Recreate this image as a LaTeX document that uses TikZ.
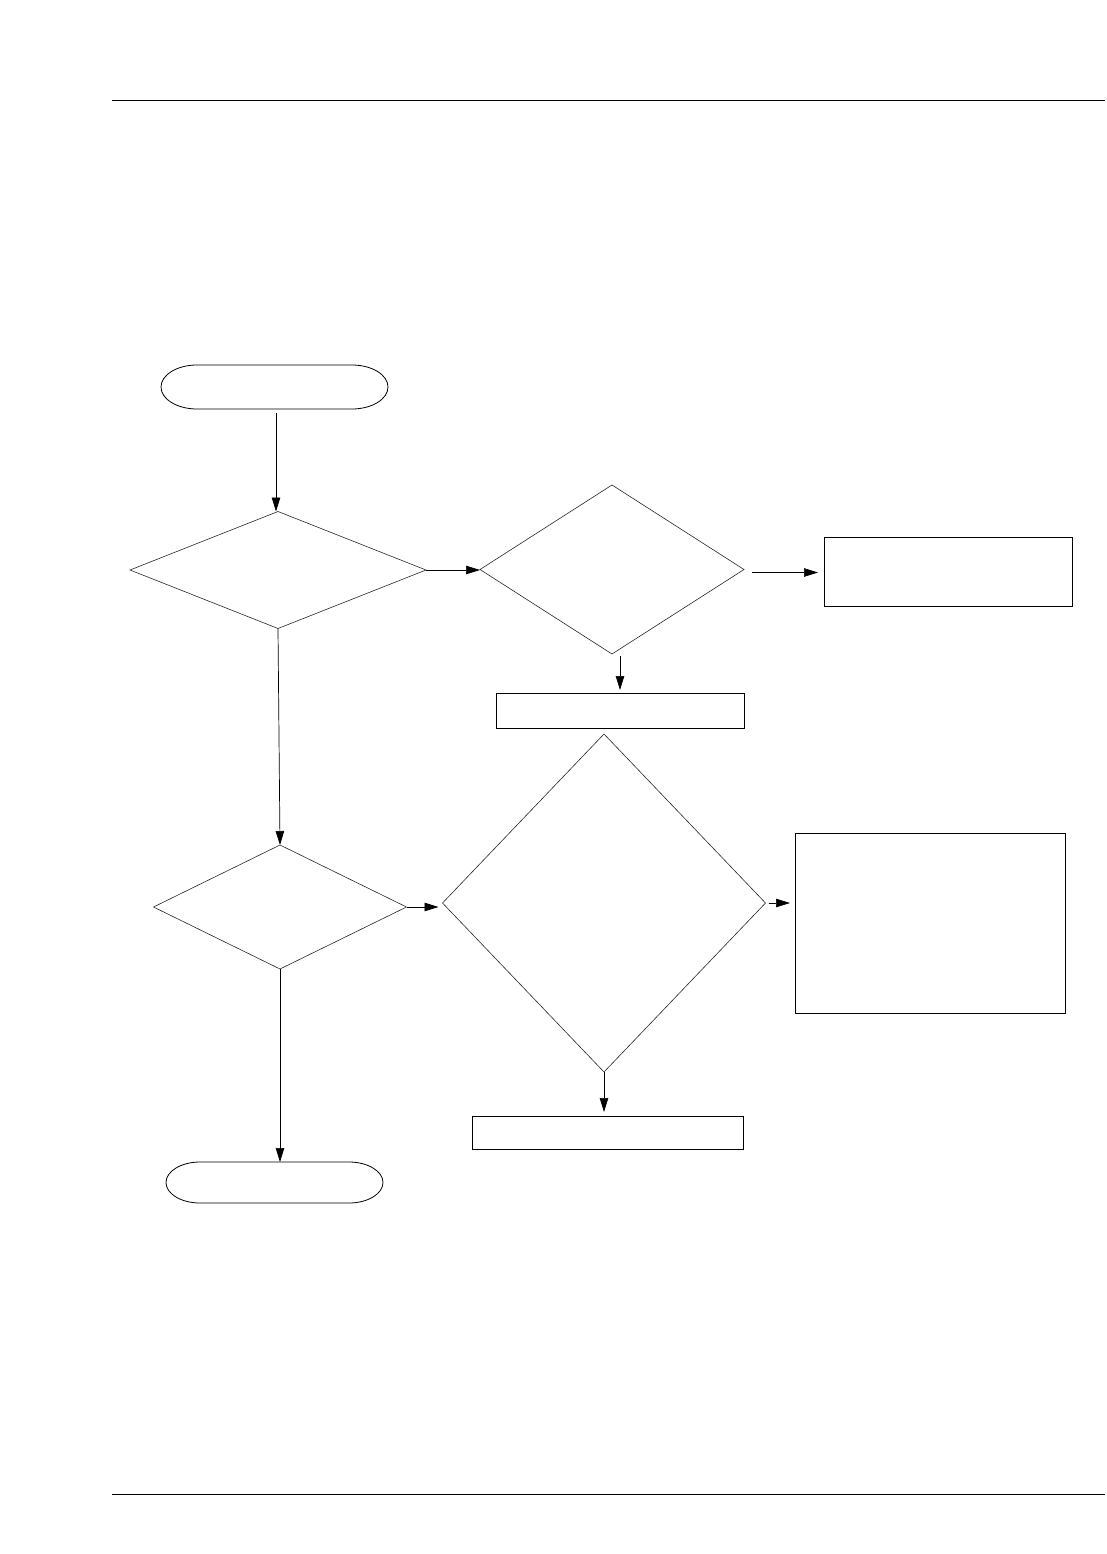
\documentclass[tikz,border=0pt]{standalone}
\usetikzlibrary{shapes.geometric,arrows.meta}
\begin{document}
\begin{tikzpicture}[x=1pt,y=-1pt,
  dia/.style={shape=diamond,draw=black!85,line width=0.6pt,inner sep=0pt,outer sep=0pt},
  boxn/.style={shape=rectangle,draw=black,line width=0.9pt,inner sep=0pt,outer sep=0pt},
  termbox/.style={shape=rectangle,draw=none,inner sep=0pt,outer sep=0pt},
  termline/.style={draw=black,line width=0.8pt},
  conn/.style={draw=black,line width=0.7pt,-{Triangle[length=14pt,width=8.5pt]}},
  rule/.style={draw=black,line width=0.9pt}]
\useasboundingbox (0,0) rectangle (1107,1554);
\coordinate (hl) at (112,100); \coordinate (hr) at (1105,100);
\coordinate (fl) at (112,1494); \coordinate (fr) at (1105,1494);
\draw[rule] (hl) -- (hr);
\draw[rule] (fl) -- (fr);
% nodes
\node[termbox,minimum width=227pt,minimum height=44pt] (start) at (274.5,387) {};
\draw[termline] ([xshift=36pt]start.north west) -- ([xshift=-36pt]start.north east)
  arc[start angle=90,end angle=-90,x radius=36pt,y radius=22pt]
  -- ([xshift=36pt]start.south west)
  arc[start angle=270,end angle=90,x radius=36pt,y radius=22pt] -- cycle;
\node[dia,minimum width=296pt,minimum height=117pt] (d1) at (278,570) {};
\node[dia,minimum width=264pt,minimum height=169pt] (d2) at (612,569.5) {};
\node[boxn,minimum width=248pt,minimum height=69pt] (r3) at (948,571.5) {};
\node[boxn,minimum width=248pt,minimum height=35pt] (r2) at (620,710.5) {};
\node[dia,minimum width=253pt,minimum height=124pt] (d3) at (280,907) {};
\node[dia,minimum width=323pt,minimum height=338pt] (d4) at (604,903) {};
\node[boxn,minimum width=270pt,minimum height=180pt] (r4) at (930,923) {};
\node[boxn,minimum width=271pt,minimum height=33pt] (r5) at (607.5,1132.5) {};
\node[termbox,minimum width=217pt,minimum height=41pt] (stop) at (274.5,1182.5) {};
\draw[termline] ([xshift=34pt]stop.north west) -- ([xshift=-34pt]stop.north east)
  arc[start angle=90,end angle=-90,x radius=34pt,y radius=20.5pt]
  -- ([xshift=34pt]stop.south west)
  arc[start angle=270,end angle=90,x radius=34pt,y radius=20.5pt] -- cycle;
% connectors
\draw[conn,shorten <=4pt] ([xshift=-2pt]d1.north |- start.south) -- ([xshift=-2pt]d1.north);
\draw[conn] (d1.east) -- (d1.east -| d2.west);
\draw[conn,shorten <=8pt,shorten >=6pt] ([yshift=-3pt]d2.east) -- ([yshift=-3pt]d2.east -| r3.west);
\draw[conn,shorten <=2pt,shorten >=3pt] ([xshift=8pt]d2.south) -- ([xshift=8pt]d2.south |- r2.north);
\draw[conn] (d1.south) -- (d3.north);
\draw[conn,shorten >=4pt] (d3.east) -- (d3.east -| d4.west);
\draw[conn,shorten <=3pt,shorten >=5pt] (d4.east) -- (d4.east -| r4.west);
\draw[conn,shorten >=4pt] (d4.south) -- (d4.south |- r5.north);
\draw[conn] (d3.south) -- (d3.south |- stop.north);
\end{tikzpicture}
\end{document}
